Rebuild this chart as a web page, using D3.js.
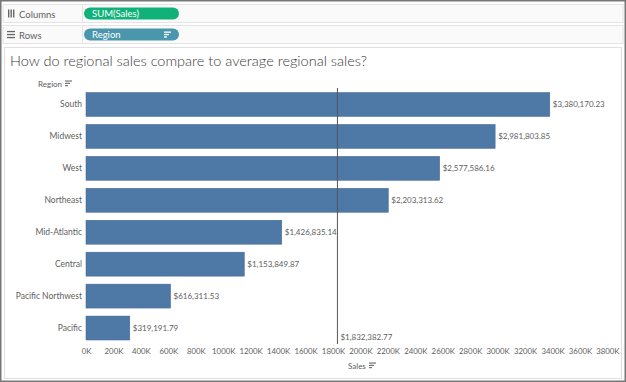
<!DOCTYPE html>
<html><head><meta charset="utf-8">
<script src="https://cdn.jsdelivr.net/npm/d3@7/dist/d3.min.js"></script>
<style>
html,body{margin:0;padding:0;background:#fff;}
svg{display:block;font-family:"Lato","Open Sans",sans-serif;}
</style></head>
<body>
<svg id="c" width="626" height="382"></svg>
<script>
const regions = ["South","Midwest","West","Northeast","Mid-Atlantic","Central","Pacific Northwest","Pacific"];
const sales = [3380170.23, 2981803.85, 2577586.16, 2203313.62, 1426835.14, 1153849.87, 616311.53, 319191.79];
const tickValues = d3.range(0, 3800001, 200000);
const average = 1832382.77;

const svg = d3.select("#c");
const W = 626, H = 382;

svg.append("rect").attr("x",0).attr("y",0).attr("width",W).attr("height",H).attr("fill","#fff");
function shelf(y, h, label, icon, pill, pillColor, sortIcon){
  svg.append("rect").attr("x",3).attr("y",y).attr("width",W-6).attr("height",h)
    .attr("fill","#fafafa").attr("stroke","#e4e4e4");
  svg.append("line").attr("x1",82.5).attr("x2",82.5).attr("y1",y).attr("y2",y+h).attr("stroke","#e4e4e4");
  svg.append("text").attr("x",19).attr("y",y+h/2+4).attr("font-size",9.5).attr("fill","#606060").text(label);
  if(icon==="col"){
    [8,10.5,13].forEach(x=>svg.append("rect").attr("x",x).attr("y",y+h/2-4).attr("width",1.4).attr("height",8).attr("fill","#666"));
  } else {
    [-3,0,3].forEach(d=>svg.append("rect").attr("x",7).attr("y",y+h/2+d-0.6).attr("width",8).attr("height",1.3).attr("fill","#666"));
  }
  svg.append("rect").attr("x",84).attr("y",y+3).attr("width",95).attr("height",h-6).attr("rx",(h-6)/2)
    .attr("fill",pillColor);
  svg.append("text").attr("x",92).attr("y",y+h/2+3.5).attr("font-size",9.5).attr("fill","#fff").text(pill);
  if(sortIcon){
    const sx=164, sy=y+h/2-3;
    [7,5,3].forEach((w,i)=>svg.append("rect").attr("x",sx).attr("y",sy+i*2.4).attr("width",w).attr("height",1.3).attr("fill","#fff"));
  }
}
shelf(4.5, 18, "Columns", "col", "SUM(Sales)", "#11b27a", false);
shelf(25.5, 18, "Rows", "row", "Region", "#4a96ad", true);

svg.append("rect").attr("x",4.5).attr("y",47.5).attr("width",W-9).attr("height",H-51).attr("fill","#fff").attr("stroke","#e0e0e0");

svg.append("text").attr("x",10).attr("y",66).attr("font-size",14.5).attr("fill","#3a3a3a").attr("font-weight",300)
  .text("How do regional sales compare to average regional sales?");

function sortGlyph(x,y,color){
  [7,5,3].forEach((w,i)=>svg.append("rect").attr("x",x).attr("y",y+i*2.3).attr("width",w).attr("height",1.1).attr("fill",color));
}
svg.append("text").attr("x",38).attr("y",87).attr("font-size",8).attr("fill","#606060").text("Region");
sortGlyph(65,80.5,"#666");

const x = d3.scaleLinear().domain([0, 3800000]).range([86, 607.4]);
const y = d3.scaleBand().domain(regions).range([88.5, 344]).paddingInner(0.25).paddingOuter(0.125);

const g = svg.append("g");
g.selectAll("rect.bar").data(regions).join("rect").attr("class","bar")
  .attr("x", x(0)).attr("y", d=>y(d)).attr("width", (d,i)=>x(sales[i])-x(0)).attr("height", y.bandwidth())
  .attr("fill","#4e79a7").attr("stroke","#3f6590").attr("stroke-width",0.5);

g.selectAll("text.val").data(regions).join("text").attr("class","val")
  .attr("x",(d,i)=>x(sales[i])+3).attr("y",d=>y(d)+y.bandwidth()/2+3)
  .attr("font-size",8).attr("fill","#606060")
  .text((d,i)=>"$"+d3.format(",.2f")(sales[i]));

g.selectAll("text.cat").data(regions).join("text").attr("class","cat")
  .attr("x",82).attr("y",d=>y(d)+y.bandwidth()/2+3).attr("text-anchor","end")
  .attr("font-size",8.5).attr("fill","#606060").text(d=>d);

svg.append("line").attr("x1",x(average)).attr("x2",x(average)).attr("y1",88).attr("y2",344)
  .attr("stroke","#555").attr("stroke-width",1);
svg.append("text").attr("x",x(average)+3).attr("y",340).attr("font-size",8).attr("fill","#606060")
  .text("$"+d3.format(",.2f")(average));

const axis = d3.axisBottom(x).tickValues(tickValues).tickSize(2).tickFormat(d=>(d/1000)+"K");
const ag = svg.append("g").attr("transform","translate(0,344)").call(axis);
ag.select(".domain").remove();
ag.selectAll(".tick line").attr("stroke","#eee");
ag.selectAll(".tick text").attr("font-size",7.8).attr("fill","#606060").attr("dy","0.95em").attr("y",3)
  .attr("font-family","Lato, 'Open Sans', sans-serif");

svg.append("text").attr("x",348).attr("y",369).attr("font-size",8).attr("fill","#606060").text("Sales");
sortGlyph(369,362.5,"#666");

svg.append("rect").attr("x",0.75).attr("y",0.75).attr("width",W-1.5).attr("height",H-1.5)
  .attr("fill","none").attr("stroke","#777").attr("stroke-width",1.5);
</script>
</body></html>
